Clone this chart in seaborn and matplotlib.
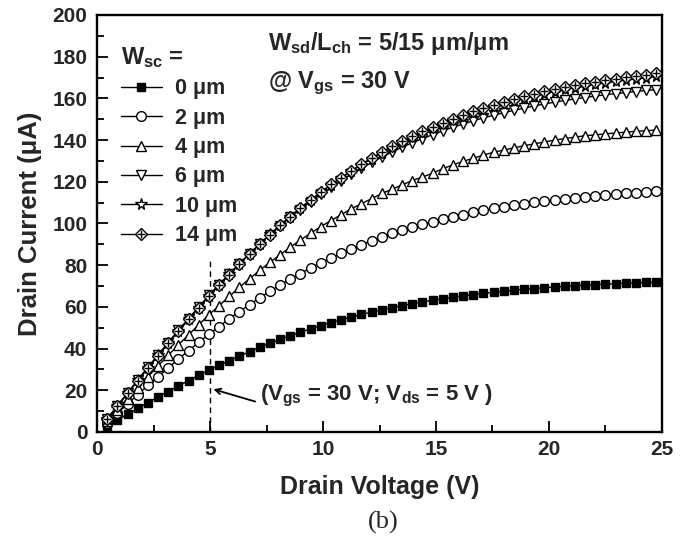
import numpy as np
import pandas as pd
import matplotlib
matplotlib.use("Agg")
import matplotlib.pyplot as plt
from matplotlib.lines import Line2D
import seaborn as sns

# drain voltage sweep (V) and drain current (uA)
vds = np.round(np.arange(1, 56) * 0.45, 2)

id_0um = [2.8, 5.7, 8.5, 11.3, 14.1, 16.8, 19.4, 22.1, 24.6, 27.2,
          29.6, 31.9, 34.2, 36.4, 38.5, 40.6, 42.5, 44.4, 46.1, 47.8,
          49.5, 51.0, 52.5, 53.8, 55.1, 56.4, 57.5, 58.6, 59.7, 60.6,
          61.5, 62.4, 63.2, 63.9, 64.6, 65.3, 65.9, 66.5, 67.0, 67.5,
          68.0, 68.4, 68.8, 69.2, 69.5, 69.8, 70.1, 70.4, 70.7, 70.9,
          71.1, 71.4, 71.5, 71.7, 71.9]
id_2um = [4.5, 9.0, 13.4, 17.9, 22.3, 26.5, 30.8, 35.0, 39.0, 43.0,
          46.9, 50.5, 54.3, 57.7, 61.1, 64.4, 67.4, 70.5, 73.3, 76.0,
          78.7, 81.1, 83.4, 85.7, 87.8, 89.8, 91.7, 93.4, 95.2, 96.7,
          98.2, 99.6, 100.9, 102.1, 103.3, 104.3, 105.4, 106.3, 107.2, 108.0,
          108.8, 109.5, 110.1, 110.8, 111.4, 111.9, 112.4, 112.9, 113.3, 113.7,
          114.1, 114.4, 114.8, 115.1, 115.4]
id_4um = [5.4, 10.7, 16.0, 21.3, 26.5, 31.7, 36.7, 41.8, 46.6, 51.4,
          56.2, 60.6, 65.0, 69.4, 73.5, 77.5, 81.4, 85.0, 88.6, 92.1,
          95.3, 98.5, 101.4, 104.2, 107.0, 109.5, 111.9, 114.4, 116.4, 118.5,
          120.6, 122.3, 124.1, 126.3, 128.1, 129.8, 131.3, 132.8, 134.2, 135.2,
          136.3, 137.3, 138.2, 139.1, 140.0, 140.7, 141.4, 142.1, 142.5, 143.0,
          143.4, 143.8, 144.2, 144.5, 144.8]
id_6um = [6.3, 12.5, 18.8, 24.9, 31.0, 37.0, 42.9, 48.8, 54.4, 60.0,
          65.5, 70.7, 75.8, 80.8, 85.5, 90.2, 94.5, 98.8, 103.0, 106.7,
          110.4, 114.0, 117.3, 120.6, 123.6, 126.4, 129.3, 131.8, 134.2, 136.6,
          138.7, 140.7, 142.6, 144.4, 146.2, 147.7, 149.2, 150.7, 151.9, 153.1,
          154.3, 155.3, 156.4, 157.3, 158.2, 159.0, 159.7, 160.4, 161.1, 161.7,
          162.3, 162.8, 163.3, 163.8, 164.2]
id_10um = [6.2, 12.4, 18.6, 24.7, 30.8, 36.8, 42.6, 48.5, 54.2, 59.7,
           65.2, 70.5, 75.6, 80.7, 85.5, 90.2, 94.8, 99.1, 103.3, 107.5,
           111.2, 114.9, 118.6, 121.8, 125.1, 128.2, 131.1, 133.9, 136.5, 139.0,
           141.4, 143.6, 145.7, 147.7, 149.6, 151.3, 153.1, 154.6, 156.1, 157.5,
           158.8, 160.0, 161.2, 162.2, 163.3, 164.3, 165.1, 166.0, 166.8, 167.5,
           168.2, 168.8, 169.4, 170.0, 170.5]
id_14um = [6.2, 12.4, 18.5, 24.6, 30.6, 36.6, 42.5, 48.3, 54.0, 59.5,
           65.0, 70.3, 75.4, 80.5, 85.4, 90.0, 94.7, 99.1, 103.2, 107.4,
           111.3, 115.0, 118.7, 122.0, 125.2, 128.5, 131.3, 134.2, 137.0, 139.4,
           141.8, 144.2, 146.3, 148.3, 150.3, 152.1, 153.8, 155.5, 156.9, 158.4,
           159.8, 161.0, 162.2, 163.4, 164.4, 165.4, 166.4, 167.2, 168.0, 168.8,
           169.5, 170.2, 170.8, 171.4, 172.0]

labels = ["0 \u03bcm", "2 \u03bcm", "4 \u03bcm", "6 \u03bcm", "10 \u03bcm", "14 \u03bcm"]
series = [id_0um, id_2um, id_4um, id_6um, id_10um, id_14um]
markers = ["s", "o", "^", "v", "*", "D"]
msizes = [6.0, 7.0, 7.5, 7.5, 8.5, 6.0]
fills = ["black", "white", "white", "white", "white", "white"]

sns.set_style("ticks")
plt.rcParams["font.family"] = ["Liberation Sans", "DejaVu Sans"]
plt.rcParams["font.weight"] = "bold"
plt.rcParams["mathtext.fontset"] = "custom"
plt.rcParams["mathtext.rm"] = "Liberation Sans:bold"
plt.rcParams["mathtext.it"] = "Liberation Sans:bold"
plt.rcParams["mathtext.bf"] = "Liberation Sans:bold"

fig = plt.figure(figsize=(6.95, 5.41), dpi=100)
ax = fig.add_axes([0.1396, 0.2015, 0.8129, 0.7708])

# dashed guide at Vds = 5 V
ax.plot([5, 5], [0, 82], ls=(0, (4, 3)), color="black", lw=1.0, zorder=1)

handles = []
for lab, y, m, ms, fc in zip(labels, series, markers, msizes, fills):
    df = pd.DataFrame({"Vds": vds, "Id": y})
    sns.lineplot(data=df, x="Vds", y="Id", ax=ax, color="black", lw=1.0,
                 marker=m, ms=ms, mfc=fc, mec="black", mew=1.0,
                 clip_on=False, zorder=3)
    h = Line2D([], [], color="black", lw=1.0, marker=m, ms=ms, mfc=fc,
               mec="black", mew=1.0)
    if m == "D":
        # crossed diamond: overlay plus signs
        sns.lineplot(data=df, x="Vds", y="Id", ax=ax, color="black", lw=0,
                     marker="+", ms=6.0, mec="black", mew=1.0,
                     clip_on=False, zorder=4)
        h = (h, Line2D([], [], lw=0, marker="+", ms=6.0, mec="black", mew=1.0))
    handles.append(h)

ax.set_xlim(0, 25)
ax.set_ylim(0, 200)
ax.set_xticks(np.arange(0, 26, 5))
ax.set_xticks(np.arange(2.5, 25, 5), minor=True)
ax.set_yticks(np.arange(0, 201, 20))
ax.set_yticks(np.arange(10, 200, 20), minor=True)
ax.tick_params(which="both", direction="in", top=False, right=False,
               width=1.3, labelsize=15, color="black")
ax.tick_params(which="major", length=8)
ax.tick_params(which="minor", length=5)
ax.tick_params(axis="x", pad=6)
ax.tick_params(axis="y", pad=7)
for s in ax.spines.values():
    s.set_linewidth(1.7)
    s.set_color("black")

ax.set_xlabel("Drain Voltage (V)", fontsize=18, fontweight="bold")
ax.set_ylabel("Drain Current (\u03bcA)", fontsize=18.5, fontweight="bold")
ax.xaxis.set_label_coords(0.5, -0.103)
ax.yaxis.set_label_coords(-0.097, 0.5)

leg = ax.legend(handles, labels, title=r"$W_{sc}$ =", loc="upper left",
                bbox_to_anchor=(0.042, 0.928), frameon=False, fontsize=15.5,
                title_fontsize=17, alignment="left", handlelength=1.9,
                handletextpad=0.6, labelspacing=0.39, borderpad=0,
                borderaxespad=0)

ax.text(0.303, 0.916, "$W_{sd}/L_{ch}$ = 5/15 \u03bcm/\u03bcm",
        transform=ax.transAxes, fontsize=17, ha="left", va="baseline")
ax.text(0.303, 0.825, "@ V$_{gs}$ = 30 V", transform=ax.transAxes,
        fontsize=17, ha="left", va="baseline")

ax.annotate("", xy=(5.15, 20.5), xytext=(7.0, 14.6),
            arrowprops=dict(arrowstyle="->", color="black", lw=1.3,
                            shrinkA=0, shrinkB=0))
ax.text(7.2, 15.0, "(V$_{gs}$ = 30 V; V$_{ds}$ = 5 V )", fontsize=16,
        ha="left", va="baseline")

fig.text(383 / 695, 1 - 522 / 541, "(b)", ha="center", va="center",
         fontsize=19, fontweight="normal", family="Liberation Serif")

fig.savefig("out.png", dpi=100, facecolor="white")
